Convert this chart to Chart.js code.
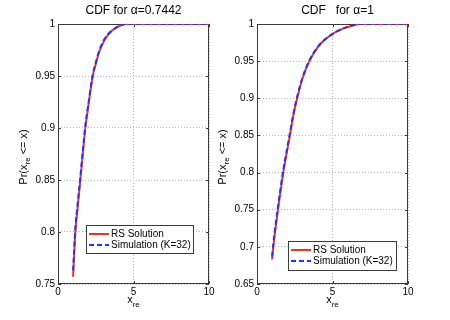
<!DOCTYPE html>
<html>
<head>
<meta charset="utf-8">
<script src="https://cdn.jsdelivr.net/npm/chart.js@4.4.0/dist/chart.umd.min.js"></script>
<style>
  body { margin: 0; background: #fff; }
  #wrap { position: relative; width: 450px; height: 320px; }
  canvas { position: absolute; top: 0; }
</style>
</head>
<body>
<div id="wrap">
  <canvas id="cdfLeft" width="225" height="320" style="left:0"></canvas>
  <canvas id="cdfRight" width="250" height="320" style="left:200px"></canvas>
</div>
<script>
// data
const xTicks = [0, 5, 10];

// alpha = 0.7442
const xLeft = [1.0, 1.15, 1.3, 1.48, 1.65, 1.81, 2.0, 2.3, 2.5, 2.7, 3.1, 3.6, 4.2, 4.6, 10];
const rsLeft = [0.757, 0.8, 0.823, 0.85, 0.876, 0.9, 0.92, 0.95, 0.9615, 0.972, 0.985, 0.994, 0.999, 1.0, 1.0];
const simLeft = [0.763, 0.804, 0.827, 0.853, 0.879, 0.902, 0.922, 0.951, 0.9625, 0.973, 0.986, 0.994, 0.999, 1.0, 1.0];
const yTicksLeft = [0.75, 0.8, 0.85, 0.9, 0.95, 1];

// alpha = 1
const xRight = [1.0, 1.08, 1.39, 1.74, 2.0, 2.18, 2.4, 2.66, 3.0, 3.47, 4.06, 4.5, 5.28, 6.16, 6.8, 10];
const rsRight = [0.683, 0.7, 0.75, 0.8, 0.83, 0.85, 0.876, 0.9, 0.926, 0.95, 0.97, 0.979, 0.99, 0.997, 1.0, 1.0];
const simRight = [0.687, 0.704, 0.754, 0.803, 0.833, 0.853, 0.878, 0.902, 0.927, 0.951, 0.97, 0.979, 0.99, 0.997, 1.0, 1.0];
const yTicksRight = [0.65, 0.7, 0.75, 0.8, 0.85, 0.9, 0.95, 1];

const seriesNames = ["RS Solution", "Simulation (K=32)"];

const FONT = "'Liberation Sans', Arial, Helvetica, sans-serif";
const RED = "rgb(255,45,20)";
const BLUE = "rgb(25,55,255)";
const BOX = "#3a3a3a";

function pts(xs, ys) {
  return xs.map((x, i) => ({ x: x, y: ys[i] }));
}

// matlab-ish box, ticks, axis labels with subscripts, legend
const matlabAxes = {
  id: "matlabAxes",
  beforeDatasetsDraw(chart, args, opts) {
    const { ctx, chartArea: a, scales } = chart;
    ctx.save();
    ctx.strokeStyle = BOX;
    ctx.lineWidth = 1;
    ctx.strokeRect(a.left + 0.5, a.top + 0.5, a.width - 1, a.height - 1);

    ctx.beginPath();
    scales.x.ticks.forEach((t) => {
      const px = Math.round(scales.x.getPixelForValue(t.value)) + 0.5;
      ctx.moveTo(px, a.bottom); ctx.lineTo(px, a.bottom - 3);
      ctx.moveTo(px, a.top); ctx.lineTo(px, a.top + 3);
    });
    scales.y.ticks.forEach((t) => {
      const py = Math.round(scales.y.getPixelForValue(t.value)) + 0.5;
      ctx.moveTo(a.left, py); ctx.lineTo(a.left + 3, py);
      ctx.moveTo(a.right, py); ctx.lineTo(a.right - 3, py);
    });
    ctx.stroke();
    ctx.restore();
  },
  afterDraw(chart, args, opts) {
    const { ctx, chartArea: a } = chart;
    const cx = (a.left + a.right) / 2;
    ctx.save();
    ctx.fillStyle = "#000";

    // title
    ctx.font = "12px " + FONT;
    ctx.textAlign = "center";
    ctx.textBaseline = "middle";
    ctx.fillText(opts.title, cx + (opts.titleDx || 0), 11);

    // x label: x_re
    ctx.textAlign = "left";
    ctx.textBaseline = "alphabetic";
    ctx.font = "11px " + FONT;
    const w1 = ctx.measureText("x").width;
    ctx.font = "8px " + FONT;
    const w2 = ctx.measureText("re").width;
    let sx = cx - (w1 + w2) / 2;
    ctx.font = "11px " + FONT;
    ctx.fillText("x", sx, 303);
    ctx.font = "8px " + FONT;
    ctx.fillText("re", sx + w1, 307);

    // y label: Pr(x_re <= x), rotated
    const parts = [["Pr(x", 11, 0], ["re", 8, 4], [" <= x)", 11, 0]];
    let total = 0;
    parts.forEach((p) => {
      ctx.font = p[1] + "px " + FONT;
      total += ctx.measureText(p[0]).width;
    });
    ctx.translate(a.left - 34, (a.top + a.bottom) / 2 + 3);
    ctx.rotate(-Math.PI / 2);
    ctx.textBaseline = "middle";
    let ox = -total / 2;
    parts.forEach((p) => {
      ctx.font = p[1] + "px " + FONT;
      ctx.fillText(p[0], ox, p[2]);
      ox += ctx.measureText(p[0]).width;
    });
    ctx.setTransform(1, 0, 0, 1, 0, 0);

    // legend
    const lg = opts.legend;
    const bx = a.right - lg.right - lg.width;
    const by = a.bottom - lg.bottom - lg.height;
    ctx.fillStyle = "#fff";
    ctx.fillRect(bx, by, lg.width, lg.height);
    ctx.strokeStyle = BOX;
    ctx.lineWidth = 1;
    ctx.strokeRect(Math.round(bx) + 0.5, Math.round(by) + 0.5, lg.width, lg.height);
    ctx.font = "10px " + FONT;
    ctx.textBaseline = "middle";
    ctx.fillStyle = "#000";
    chart.data.datasets.forEach((ds, i) => {
      const ry = by + 9 + i * 11;
      ctx.strokeStyle = ds.borderColor;
      ctx.lineWidth = 2;
      ctx.setLineDash(ds.borderDash || []);
      ctx.beginPath();
      ctx.moveTo(bx + 3, ry);
      ctx.lineTo(bx + 23, ry);
      ctx.stroke();
      ctx.setLineDash([]);
      ctx.fillText(ds.label, bx + 25, ry);
    });
    ctx.restore();
  },
};

function makeCdf(canvasId, xs, rs, sim, yTicks, padRight, yWidth, deco) {
  const ctx = document.getElementById(canvasId).getContext("2d");
  return new Chart(ctx, {
    type: "line",
    data: {
      datasets: [
        {
          label: seriesNames[0],
          data: pts(xs, rs),
          borderColor: RED,
          borderWidth: 2,
          pointRadius: 0,
          cubicInterpolationMode: "monotone",
          order: 1,
        },
        {
          label: seriesNames[1],
          data: pts(xs, sim),
          borderColor: BLUE,
          borderWidth: 2,
          borderDash: [5, 3],
          pointRadius: 0,
          cubicInterpolationMode: "monotone",
          order: 0,
        },
      ],
    },
    options: {
      responsive: false,
      animation: false,
      layout: { padding: { top: 24, right: padRight, left: 0, bottom: 0 } },
      plugins: {
        legend: { display: false },
        tooltip: { enabled: false },
        matlabAxes: deco,
      },
      scales: {
        x: {
          type: "linear",
          min: 0,
          max: 10,
          afterBuildTicks: (s) => { s.ticks = xTicks.map((v) => ({ value: v })); },
          afterFit: (s) => { s.height = 36; },
          grid: { color: "#b8b8b8", lineWidth: 1, drawTicks: false },
          border: { display: false, dash: [1, 2] },
          ticks: {
            padding: 2,
            maxRotation: 0,
            color: "#000",
            font: { family: FONT, size: 10 },
            callback: (v) => String(v),
          },
        },
        y: {
          type: "linear",
          min: yTicks[0],
          max: yTicks[yTicks.length - 1],
          afterBuildTicks: (s) => { s.ticks = yTicks.map((v) => ({ value: v })); },
          afterFit: (s) => { s.width = yWidth; },
          grid: { color: "#b8b8b8", lineWidth: 1, drawTicks: false },
          border: { display: false, dash: [1, 2] },
          ticks: {
            padding: 3,
            color: "#000",
            font: { family: FONT, size: 10 },
            callback: (v) => String(v),
          },
        },
      },
    },
    plugins: [matlabAxes],
  });
}

makeCdf("cdfLeft", xLeft, rsLeft, simLeft, yTicksLeft, 16, 58, {
  title: "CDF for \u03b1=0.7442",
  titleDx: 0,
  legend: { right: 16, bottom: 31, width: 107, height: 28 },
});

makeCdf("cdfRight", xRight, rsRight, simRight, yTicksRight, 42, 57, {
  title: "CDF   for \u03b1=1",
  titleDx: 5,
  legend: { right: 12, bottom: 14, width: 108, height: 29 },
});
</script>
</body>
</html>
